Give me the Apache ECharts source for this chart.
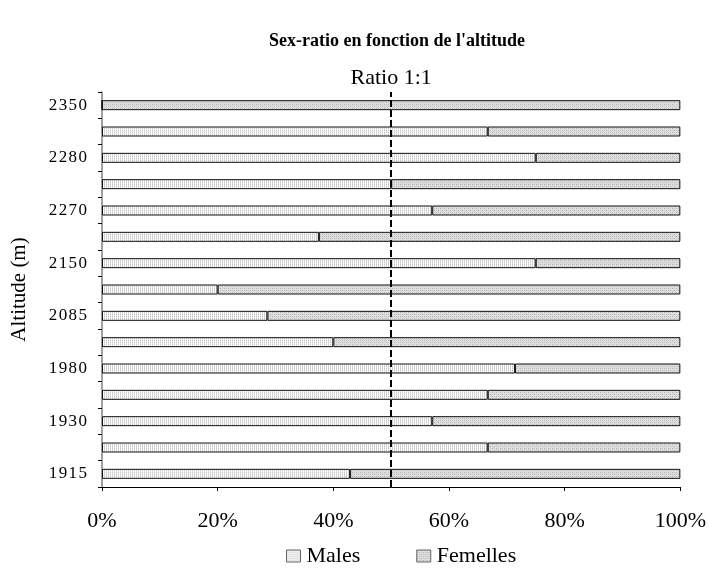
<!DOCTYPE html>
<html>
<head>
<meta charset="utf-8">
<script src="https://cdn.jsdelivr.net/npm/echarts@6/dist/echarts.min.js"></script>
<style>
  html, body { margin: 0; padding: 0; background: #fff; }
  #main { width: 709px; height: 568px; }
</style>
</head>
<body>
<div id="main"></div>
<script>
// altitudes, bottom to top (only every other one is labelled on the chart)
var altitudes = ['1915', '', '1930', '', '1980', '', '2085', '', '2150', '', '2270', '', '2280', '', '2350']
var males = [42.9, 66.7, 57.1, 66.7, 71.4, 40, 28.6, 20, 75, 37.5, 57.1, 50, 75, 66.7, 0]
var femelles = [57.1, 33.3, 42.9, 33.3, 28.6, 60, 71.4, 80, 25, 62.5, 42.9, 50, 25, 33.3, 100]
var xTicks = ['0%', '20%', '40%', '60%', '80%', '100%']

var serif = 'Liberation Serif'

// small canvas fills to mimic the Excel hatch patterns
function pattern (w, h, bg, dots) {
  let c = document.createElement('canvas')
  c.width = w
  c.height = h
  let ctx = c.getContext('2d')
  ctx.fillStyle = bg
  ctx.fillRect(0, 0, w, h)
  dots.forEach(function (d) {
    ctx.fillStyle = d[2]
    ctx.fillRect(d[0], d[1], 1, 1)
  })
  return { image: c, repeat: 'repeat' }
}
var malesFill = pattern(2, 2, '#ffffff', [[0, 0, '#c8c8c8'], [0, 1, '#dedede']])
var femellesFill = pattern(4, 4, '#dddddd', [[0, 0, '#b4b4b4'], [2, 2, '#b4b4b4'], [2, 0, '#cccccc'], [0, 2, '#cccccc']])

// spread the digits a little, like the original tick labels
function spaced (s) {
  return s.split('').join('\u200A')
}

var myChart = echarts.init(document.getElementById('main'))
var option = {
  backgroundColor: '#fff',
  animation: false,
  title: {
    text: "Sex-ratio en fonction de l'altitude",
    left: 392,
    top: 27,
    textAlign: 'center',
    textStyle: { fontFamily: serif, fontSize: 18, fontWeight: 'bold', color: '#000' }
  },
  legend: {
    left: 281,
    top: 540,
    icon: 'rect',
    itemWidth: 14,
    itemHeight: 12,
    itemGap: 56,
    textStyle: { fontFamily: serif, fontSize: 22, color: '#000', padding: [0, 0, 0, 1] },
    itemStyle: { borderColor: '#666', borderWidth: 1 },
    data: ['Males', 'Femelles']
  },
  grid: { left: 102, right: 28, top: 92, bottom: 81, containLabel: false },
  xAxis: {
    type: 'value',
    min: 0,
    max: 100,
    interval: 20,
    splitLine: { show: false },
    axisLine: { show: true, lineStyle: { color: '#000', width: 1 } },
    axisTick: { show: true, length: 4, lineStyle: { color: '#000' } },
    axisLabel: {
      margin: 23,
      fontFamily: serif,
      fontSize: 22,
      color: '#000',
      formatter: function (v) { return xTicks[Math.round(v / 20)] }
    }
  },
  yAxis: {
    type: 'category',
    data: altitudes,
    name: 'Altitude (m)',
    nameLocation: 'middle',
    nameGap: 72,
    nameTextStyle: { fontFamily: serif, fontSize: 21, color: '#000' },
    axisLine: { show: true, lineStyle: { color: '#808080', width: 1.5 } },
    axisTick: { show: true, length: 4, lineStyle: { color: '#000' } },
    axisLabel: {
      interval: 0,
      margin: 15,
      fontFamily: serif,
      fontSize: 17,
      color: '#000',
      formatter: function (v) { return spaced(v) }
    }
  },
  series: [
    {
      name: 'Males',
      type: 'bar',
      stack: 'ratio',
      barWidth: 10,
      data: males,
      itemStyle: { color: malesFill, borderColor: '#111', borderWidth: 1 },
      markLine: {
        silent: true,
        symbol: 'none',
        lineStyle: { color: '#000', type: [7, 3], width: 2 },
        label: {
          show: true,
          position: 'end',
          distance: 3,
          formatter: 'Ratio 1:1',
          fontFamily: serif,
          fontSize: 22,
          color: '#000'
        },
        data: [{ xAxis: 50 }]
      }
    },
    {
      name: 'Femelles',
      type: 'bar',
      stack: 'ratio',
      barWidth: 10,
      data: femelles,
      itemStyle: { color: femellesFill, borderColor: '#111', borderWidth: 1 }
    }
  ]
}
myChart.setOption(option)
</script>
</body>
</html>
